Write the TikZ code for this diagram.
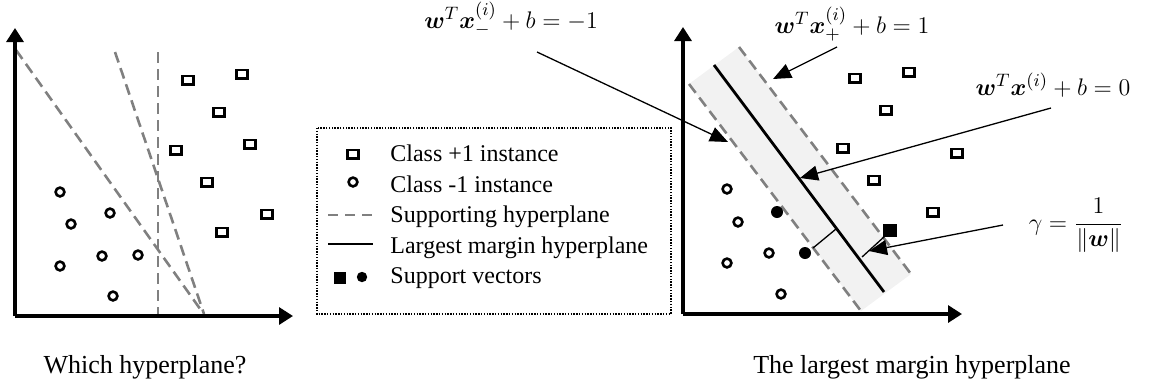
\documentclass[tikz,border=0pt]{standalone}
\usepackage{amsmath,bm}
\usepackage{fontspec}
\setmainfont{Liberation Serif}
\usetikzlibrary{arrows.meta}
\definecolor{supgray}{HTML}{808080}
\definecolor{bandgray}{HTML}{F2F2F2}
\tikzset{
  axis/.style={line width=1.6pt, -{Triangle[length=7pt,width=8.5pt]}},
  supline/.style={draw=supgray, line width=1.3pt, dash pattern=on 5.5pt off 3pt},
  mainline/.style={line width=1.4pt},
  thinseg/.style={line width=0.65pt},
  posnode/.style={draw, rectangle, line width=1.3pt, minimum width=5.4pt, minimum height=4.2pt, inner sep=0pt},
  negnode/.style={draw, circle, line width=1.3pt, minimum size=4.4pt, inner sep=0pt},
  svpos/.style={fill, rectangle, minimum width=6.8pt, minimum height=6.5pt, inner sep=0pt},
  svneg/.style={fill, circle, minimum size=6pt, inner sep=0pt},
  pointer/.style={line width=0.65pt, -{Triangle[length=9pt,width=7.5pt]}},
  captext/.style={font=\fontsize{13}{15}\selectfont, anchor=base, inner sep=0pt},
  legtext/.style={font=\fontsize{12}{14}\selectfont, anchor=base west, inner sep=0pt},
  mathlbl/.style={font=\fontsize{13}{15}\selectfont, anchor=base, inner sep=0pt},
  legbox/.style={line width=0.65pt, dash pattern=on 0.7pt off 0.7pt}
}
\begin{document}
\begin{tikzpicture}[x=0.5pt,y=-0.5pt]
\useasboundingbox (0,0) rectangle (1149,387);

% ---------- left plot ----------
\coordinate (Lo) at (15,316);
\coordinate (Ly) at (15,28);
\coordinate (Lx) at (293,316);
\coordinate (d1a) at (16,50);   \coordinate (d1b) at (203,313);
\coordinate (d2a) at (115,52);  \coordinate (d2b) at (204,314);
\coordinate (d3a) at (158,52);  \coordinate (d3b) at (158,316);
\draw[supline] (d1a) -- (d1b);
\draw[supline] (d2a) -- (d2b);
\draw[supline] (d3a) -- (d3b);
\draw[axis] (Lo) -- (Ly);
\draw[axis] (Lo) -- (Lx);

\node[posnode] (ls1) at (188,80) {};
\node[posnode] (ls2) at (242,74) {};
\node[posnode] (ls3) at (219,112) {};
\node[posnode] (ls4) at (176,150) {};
\node[posnode] (ls5) at (250,144) {};
\node[posnode] (ls6) at (207,182) {};
\node[posnode] (ls7) at (267,214) {};
\node[posnode] (ls8) at (222,232) {};

\node[negnode] (lc1) at (60,192) {};
\node[negnode] (lc2) at (71,224) {};
\node[negnode] (lc3) at (110,213) {};
\node[negnode] (lc4) at (60,266) {};
\node[negnode] (lc5) at (102,256) {};
\node[negnode] (lc6) at (138,255) {};
\node[negnode] (lc7) at (113,296) {};

\node[captext] (lcap) at (145,373) {Which hyperplane?};

% ---------- legend ----------
\coordinate (bx1) at (317,128);
\coordinate (bx2) at (671,314);
\draw[legbox] (bx1) rectangle (bx2);
\node[posnode] (g1) at (353,154) {};
\node[legtext] (t1) at (390,161.5) {Class +1 instance};
\node[negnode] (g2) at (353,182) {};
\node[legtext] (t2) at (390,192) {Class -1 instance};
\coordinate (g3a) at (328,215); \coordinate (g3b) at (373,215);
\draw[supline, dash pattern=on 5pt off 3.5pt] (g3a) -- (g3b);
\node[legtext] (t3) at (390,222.5) {Supporting hyperplane};
\coordinate (g4a) at (328,244); \coordinate (g4b) at (373,244);
\draw[mainline] (g4a) -- (g4b);
\node[legtext] (t4) at (390,253) {Largest margin hyperplane};
\node[svpos, minimum width=5.6pt, minimum height=5.6pt] (g5a) at (340,278) {};
\node[svneg, minimum size=5.2pt] (g5b) at (362,277) {};
\node[legtext] (t5) at (390,283.5) {Support vectors};

% ---------- right plot ----------
\coordinate (b1) at (689,84);
\coordinate (b2) at (739,47);
\coordinate (b3) at (911,274);
\coordinate (b4) at (861,311);
\fill[bandgray] (b1) -- (b2) -- (b3) -- (b4) -- cycle;
\draw[supline] (b1) -- (b4);
\draw[supline] (b2) -- (b3);
\coordinate (h1) at (714,65);
\coordinate (h2) at (884,292);
\draw[mainline] (h1) -- (h2);

\coordinate (Ro) at (683,314);
\coordinate (Ry) at (683,27);
\coordinate (Rx) at (962,314);
\draw[axis] (Ro) -- (Ry);
\draw[axis] (Ro) -- (Rx);

\node[posnode] (rs1) at (855,78) {};
\node[posnode] (rs2) at (909,72) {};
\node[posnode] (rs3) at (886,110) {};
\node[posnode] (rs4) at (843,148) {};
\node[posnode] (rs5) at (957,153) {};
\node[posnode] (rs6) at (874,180) {};
\node[posnode] (rs7) at (933,212) {};
\node[svpos] (rsv) at (890,230) {};

\node[negnode] (rc1) at (727,189) {};
\node[negnode] (rc2) at (738,222) {};
\node[negnode] (rc3) at (769,253) {};
\node[negnode] (rc4) at (727,263) {};
\node[negnode] (rc5) at (781,294) {};
\node[svneg] (rcv1) at (777,212) {};
\node[svneg] (rcv2) at (805,253) {};

% margin segments
\coordinate (m1a) at (813,248); \coordinate (m1b) at (836,229);
\draw[thinseg] (m1a) -- (m1b);
\coordinate (m2a) at (885,236); \coordinate (m2b) at (862,257);
\draw[thinseg] (m2a) -- (m2b);

% labels
\node[mathlbl] (lm) at (511,28) {$\bm{w}^T\bm{x}_-^{(i)}+b=-1$};
\node[mathlbl] (lp) at (852,33) {$\bm{w}^T\bm{x}_+^{(i)}+b=1$};
\node[mathlbl] (l0) at (1053,95) {$\bm{w}^T\bm{x}^{(i)}+b=0$};
\node[mathlbl] (lg) at (1076,230) {$\gamma=\dfrac{1}{\|\bm{w}\|}$};

% pointers
\coordinate (pa) at (537,52);  \coordinate (pae) at (728,142);
\coordinate (pb) at (837,47);  \coordinate (pbe) at (773,79);
\coordinate (pc) at (1051,108); \coordinate (pce) at (800,178);
\coordinate (pd) at (1003,225); \coordinate (pde) at (869,251);
\draw[pointer] (pa) -- (pae);
\draw[pointer] (pb) -- (pbe);
\draw[pointer] (pc) -- (pce);
\draw[pointer] (pd) -- (pde);

\node[captext] (rcap) at (912,373) {The largest margin hyperplane};
\end{tikzpicture}
\end{document}
